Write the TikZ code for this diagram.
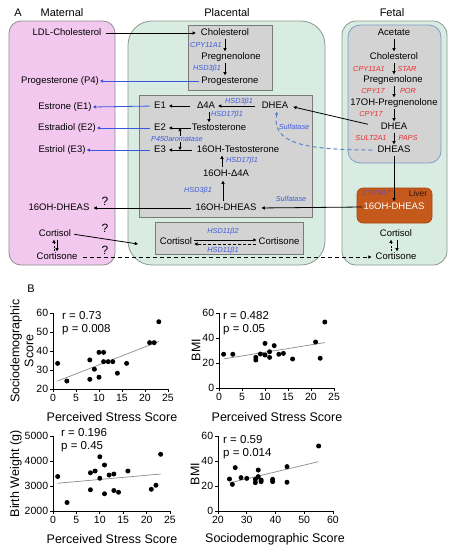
\documentclass[tikz,border=0pt]{standalone}
\usepackage{fontspec}
\setmainfont{Liberation Sans}
\usetikzlibrary{arrows.meta,calc}
\definecolor{pinkfill}{HTML}{F2C8EF}
\definecolor{boxdraw}{HTML}{8E8E8E}
\definecolor{greenfill}{HTML}{D9ECE1}
\definecolor{greendraw}{HTML}{8A9A90}
\definecolor{greyfill}{HTML}{D3D3D3}
\definecolor{greydraw}{HTML}{7A7A7A}
\definecolor{fetdraw}{HTML}{7D9CC6}
\definecolor{liverfill}{HTML}{C5581B}
\definecolor{liverdraw}{HTML}{A3460F}
\definecolor{enzblue}{HTML}{3F5BDB}
\definecolor{enzred}{HTML}{EC2B2B}
\definecolor{lineblue}{HTML}{3A56E0}
\definecolor{dashblue}{HTML}{5A86C8}
\definecolor{cypcol}{HTML}{6B4A9E}
\definecolor{livertext}{HTML}{3A1506}
\definecolor{reggrey}{HTML}{8A8A8A}
\begin{document}
\begin{tikzpicture}[x=1pt,y=-1pt,
  lbl/.style={font=\fontsize{9.5}{11}\selectfont, inner sep=1pt, text height=7pt, text depth=2pt},
  enzb/.style={font=\fontsize{7.3}{8}\selectfont\itshape, text=enzblue, inner sep=0.5pt},
  enzr/.style={font=\fontsize{7.3}{8}\selectfont\itshape, text=enzred, inner sep=0.5pt},
  hdr/.style={font=\fontsize{11}{13}\selectfont, inner sep=0pt},
  qm/.style={font=\fontsize{12}{14}\selectfont, inner sep=0pt},
  arr/.style={-{Triangle[length=3.2pt,width=3.2pt]}, line width=0.8pt},
  barr/.style={arr, draw=lineblue},
  dsh/.style={dash pattern=on 4pt off 3pt},
  axis/.style={line width=0.8pt},
  tick/.style={font=\fontsize{10.5}{12}\selectfont, inner sep=1.5pt},
  axt/.style={font=\fontsize{12.5}{14}\selectfont, inner sep=0pt},
  stat/.style={font=\fontsize{11.5}{13}\selectfont, inner sep=0pt, anchor=west},
  dot/.style={circle, fill=black, inner sep=0pt, minimum size=5pt},
  reg/.style={draw=reggrey, line width=0.7pt}]
\fill[white] (0,0) rectangle (456,550);
\useasboundingbox (0,0) rectangle (456,550);

% ---------- region boxes ----------
\filldraw[fill=pinkfill, draw=boxdraw, line width=0.8pt, rounded corners=12pt] (9,21) rectangle (115,265);
\filldraw[fill=greenfill, draw=greendraw, line width=0.8pt, rounded corners=24pt] (128,21) rectangle (325,265);
\filldraw[fill=greenfill, draw=greendraw, line width=0.8pt, rounded corners=14pt] (342,21) rectangle (447,265);
\filldraw[fill=greyfill, draw=greydraw, line width=0.8pt] (188,25) rectangle (272,90);
\filldraw[fill=greyfill, draw=greydraw, line width=0.8pt] (139,95) rectangle (312,217);
\filldraw[fill=greyfill, draw=greydraw, line width=0.8pt] (155,222) rectangle (303,254);
\filldraw[fill=greyfill, draw=fetdraw, line width=0.8pt, rounded corners=12pt] (348,25) rectangle (441,163);
\filldraw[fill=liverfill, draw=liverdraw, line width=0.6pt, rounded corners=6pt] (357,188) rectangle (432,223);

% ---------- headers ----------
\node[hdr] (hA) at (18,13) {A};
\node[hdr] (hmat) at (62,13) {Maternal};
\node[hdr] (hpla) at (227,13) {Placental};
\node[hdr] (hfet) at (392,13) {Fetal};
\node[hdr] (hB) at (31,289) {B};

% ---------- maternal ----------
\node[lbl] (ldl) at (67,33) {LDL-Cholesterol};
\node[lbl] (p4) at (60,81) {Progesterone (P4)};
\node[lbl] (est1) at (65,107) {Estrone (E1)};
\node[lbl] (est2) at (67,128) {Estradiol (E2)};
\node[lbl] (est3) at (62,150) {Estriol (E3)};
\node[lbl] (mohs) at (59,208) {16OH-DHEAS};
\node[lbl] (mcol) at (55,234) {Cortisol};
\node[lbl] (mcon) at (57,257) {Cortisone};
\node[qm] (q1) at (105,201) {?};
\node[qm] (q2) at (105,228) {?};
\node[qm] (q3) at (105,250) {?};
\coordinate (mc1) at ([xshift=-3pt]mcon.north);
\coordinate (mc2) at ([xshift=2pt]mcol.south);
\draw[arr, dash pattern=on 2pt off 1.5pt] (mc1) -- (mc1 |- mcol.south);
\draw[arr] (mc2) -- (mc2 |- mcon.north);
\coordinate (pin) at (138,244);
\draw[arr, shorten <=2pt] (mcol.east) -- (pin);

% ---------- placental top ----------
\node[lbl] (chol) at (225,33) {Cholesterol};
\node[lbl] (preg) at (231,57) {Pregnenolone};
\node[lbl] (prog) at (230,81) {Progesterone};
\coordinate (pa1) at (225,0);
\draw[arr] (chol.south -| pa1) -- (preg.north -| pa1);
\draw[arr] (preg.south -| pa1) -- (prog.north -| pa1);
\node[enzb] (cyp11p) at (206,45) {CPY11A1};
\node[enzb] (hsdp) at (207,69) {HSD3β1};
\draw[arr, shorten <=3pt, shorten >=4pt] (ldl.east) -- (chol.west);
\draw[barr, shorten <=1pt] (prog.west) -- (p4.east);

% ---------- placental main ----------
\node[lbl] (e1) at (160,106) {E1};
\node[lbl] (d4a) at (206,106) {Δ4A};
\node[lbl] (dhea) at (275,106) {DHEA};
\node[lbl] (e2) at (160,128) {E2};
\node[lbl] (testo) at (219,128) {Testosterone};
\node[lbl] (e3) at (160,150) {E3};
\node[lbl] (oht) at (238,150) {16OH-Testosterone};
\node[lbl] (oha) at (226,174) {16OH-Δ4A};
\node[lbl] (ohs) at (226,208) {16OH-DHEAS};
\draw[arr, shorten <=6pt, shorten >=2pt] (d4a.west) -- (e1.east);
\draw[arr, shorten <=6pt, shorten >=2pt] (dhea.west) -- (d4a.east);
\node[enzb] (hsd3a) at (239,102) {HSD3β1};
\coordinate (pa2) at (209,0);
\draw[arr] (d4a.south -| pa2) -- (testo.north -| pa2);
\node[enzb] (hsd17a) at (227,115) {HSD17β1};
\draw[arr, shorten >=2pt] (testo.west) -- (e2.east);
\draw[arr, shorten <=4pt, shorten >=2pt] (oht.west) -- (e3.east);
\node[enzb] (arom) at (177,139) {P450aromatase};
\coordinate (pa3) at (180,0);
\draw[arr] (arom.north -| pa3) -- (e2 -| pa3);
\draw[arr] (arom.south -| pa3) -- (e3 -| pa3);
\coordinate (pa4) at (222,0);
\draw[arr, shorten <=1pt] (oha.north -| pa4) -- (oht.south -| pa4);
\node[enzb] (hsd17b) at (242,161) {HSD17β1};
\coordinate (pa5) at (223,0);
\draw[arr, shorten <=1pt, shorten >=1pt] (ohs.north -| pa5) -- (oha.south -| pa5);
\node[enzb] (hsd3b) at (198,191) {HSD3β1};
\node[enzb] (sulf1) at (294,127) {Sulfatase};
\node[enzb] (sulf2) at (291,199) {Sulfatase};
\draw[barr, shorten <=3pt] (e1.west) -- (est1.east);
\draw[barr, shorten <=3pt] (e2.west) -- (est2.east);
\draw[barr, shorten <=3pt] (e3.west) -- (est3.east);
\draw[arr, shorten <=3pt, shorten >=3pt] (ohs.west) -- (mohs.east);

% ---------- placental cortisol ----------
\node[lbl] (pcol) at (176,242) {Cortisol};
\node[lbl] (pcon) at (279,242) {Cortisone};
\draw[arr, shorten <=1pt, shorten >=1pt] ([yshift=2pt]pcol.east) -- ([yshift=2pt]pcon.west);
\draw[arr, dash pattern=on 3pt off 2pt, shorten <=1pt, shorten >=1pt] ([yshift=-2pt]pcon.west) -- ([yshift=-2pt]pcol.east);
\node[enzb] (hsd11b2) at (223,232) {HSD11β2};
\node[enzb] (hsd11b1) at (223,251) {HSD11β1};

% ---------- fetal ----------
\node[lbl] (acet) at (394,33) {Acetate};
\node[lbl] (fchol) at (394,57) {Cholesterol};
\node[lbl] (fpreg) at (393,80) {Pregnenolone};
\node[lbl] (f17) at (394,103) {17OH-Pregnenolone};
\node[lbl] (fdhea) at (394,127) {DHEA};
\node[lbl] (fdheas) at (394,150) {DHEAS};
\coordinate (fa) at (394,0);
\draw[arr] (acet.south -| fa) -- (fchol.north -| fa);
\draw[arr] (fchol.south -| fa) -- (fpreg.north -| fa);
\draw[arr] (fpreg.south -| fa) -- (f17.north -| fa);
\draw[arr] (f17.south -| fa) -- (fdhea.north -| fa);
\draw[arr] (fdhea.south -| fa) -- (fdheas.north -| fa);
\node[enzr] (fcyp11) at (369,69) {CPY11A1};
\node[enzr] (fstar) at (407,69) {STAR};
\node[enzr] (fcyp17a) at (373,91) {CPY17};
\node[enzr] (fpor) at (408,91) {POR};
\node[enzr] (fcyp17b) at (371,114) {CPY17};
\node[enzr] (fsult) at (371,138) {SULT2A1};
\node[enzr] (fpaps) at (408,138) {PAPS};
\draw[arr, shorten <=12pt, shorten >=4pt] (fdhea.west) -- (dhea.east);
\draw[arr, draw=dashblue, line width=1pt, dash pattern=on 4pt off 3pt, shorten <=4pt]
  (fdheas.west) .. controls (300,150) and (272,142) .. ([xshift=2pt]dhea.south);

\node[font=\fontsize{7.3}{8}\selectfont\itshape, text=cypcol, inner sep=0pt] (cyp3a7) at (376,193) {CYP3A7};
\node[font=\fontsize{8.5}{9}\selectfont, text=livertext, inner sep=0pt] (liver) at (418,193) {Liver};
\node[lbl, text=white] (lohs) at (394,207) {16OH-DHEAS};
\draw[arr] (fdheas.south -| fa) -- (lohs.north -| fa);
\draw[arr, shorten >=4pt] (lohs.west) -- (ohs.east);

\node[lbl] (fcol) at (396,234) {Cortisol};
\node[lbl] (fcon) at (396,257) {Cortisone};
\coordinate (fc1) at ([xshift=-5pt]fcon.north);
\coordinate (fc2) at ([xshift=1pt]fcol.south);
\draw[arr, dash pattern=on 2pt off 1.5pt] (fc1) -- (fc1 |- fcol.south);
\draw[arr] (fc2) -- (fc2 |- fcon.north);
\draw[arr, dsh, shorten <=4pt, shorten >=3pt] (mcon.east) -- (fcon.west);

% ---------- plot 1 ----------
\begin{scope}[shift={(53,389)}, x=4.6pt, y=1.9pt]
  \draw[axis] (0,40) -- (0,0) -- (25,0);
  \foreach \v/\l in {0/20,10/30,20/40,30/50,40/60}
    \draw[axis] (0,\v) -- ++(-3pt,0) node[tick,left] (p1y\l) {\l};
  \foreach \v in {0,5,10,15,20,25}
    \draw[axis] (\v,0) -- ++(0,-3pt) node[tick,below] (p1x\v) {\v};
  \draw[reg] (1,4.2) coordinate (p1ra) -- (23,25) coordinate (p1rb);
  \foreach \a/\b [count=\i] in {1/33.5,3/24.2,8/35.3,8/25.1,9/30.4,10/39.3,10/26.2,11/39.3,11/34.4,12/34.4,13/34.4,14/28.3,16/33.5,21/44.4,22/44.4,23/55.4}
    \node[dot] (p1d\i) at (\a,{\b-20}) {};
\end{scope}
\node[stat] (p1r) at (62,316) {r = 0.73};
\node[stat] (p1p) at (62,330) {p = 0.008};
\node[axt] (p1xt) at (112,417) {Perceived Stress Score};
\node[axt, rotate=90, align=center] (p1yt) at (22,351) {Sociodemographic\\Score};

% ---------- plot 2 ----------
\begin{scope}[shift={(219,388)}, x=4.6pt, y=1.25pt]
  \draw[axis] (0,60) -- (0,0) -- (25,0);
  \foreach \v in {0,20,40,60}
    \draw[axis] (0,\v) -- ++(-3pt,0) node[tick,left] (p2y\v) {\v};
  \foreach \v in {0,5,10,15,20,25}
    \draw[axis] (\v,0) -- ++(0,-3pt) node[tick,below] (p2x\v) {\v};
  \draw[reg] (1,23.3) coordinate (p2ra) -- (23,36.3) coordinate (p2rb);
  \foreach \a/\b [count=\i] in {1/27,3/27,8/24.5,8/22.4,9/27.2,10/35.7,10/26.4,11/29,11/24.5,12/33.9,13/27,14/27.7,16/23.2,21/36.8,22/23.8,23/52.8}
    \node[dot] (p2d\i) at (\a,\b) {};
\end{scope}
\node[stat] (p2r) at (223,316) {r = 0.482};
\node[stat] (p2p) at (223,330) {p = 0.05};
\node[axt] (p2xt) at (277,417) {Perceived Stress Score};
\node[axt, rotate=90] (p2yt) at (196,350) {BMI};

% ---------- plot 3 ----------
\begin{scope}[shift={(53,511)}, x=4.68pt, y=25pt]
  \draw[axis] (0,3) -- (0,0) -- (25,0);
  \foreach \v/\l in {0/2000,1/3000,2/4000,3/5000}
    \draw[axis] (0,\v) -- ++(-3pt,0) node[tick,left] (p3y\l) {\l};
  \foreach \v in {0,5,10,15,20,25}
    \draw[axis] (\v,0) -- ++(0,-3pt) node[tick,below] (p3x\v) {\v};
  \draw[reg] (1,1.11) coordinate (p3ra) -- (23,1.48) coordinate (p3rb);
  \foreach \a/\b [count=\i] in {1/3380,3/2340,8/3530,8/2850,9/3600,10/4170,10/3310,11/3840,11/2690,12/3440,13/3480,13/2820,14/2750,16/3600,21/2870,22/3030,23/4270}
    \node[dot] (p3d\i) at (\a,{(\b-2000)/1000}) {};
\end{scope}
\node[stat] (p3r) at (61,433) {r = 0.196};
\node[stat] (p3p) at (61,447) {p = 0.45};
\node[axt] (p3xt) at (112,539) {Perceived Stress Score};
\node[axt, rotate=90] (p3yt) at (16,474) {Birth Weight (g)};

% ---------- plot 4 ----------
\begin{scope}[shift={(218,511)}, x=2.875pt, y=1.25pt]
  \draw[axis] (0,60) -- (0,0) -- (40,0);
  \foreach \v in {0,20,40,60}
    \draw[axis] (0,\v) -- ++(-3pt,0) node[tick,left] (p4y\v) {\v};
  \foreach \v in {20,30,40,50,60}
    \draw[axis] ({\v-20},0) -- ++(0,-3pt) node[tick,below] (p4x\v) {\v};
  \draw[reg] (4,22.5) coordinate (p4ra) -- (35,39.5) coordinate (p4rb);
  \foreach \a/\b [count=\i] in {24/25.6,25/21.3,26/34.7,28/26.7,30/26.1,33/25.3,33/22.7,34/32.8,34/27.5,35/24.8,35/23.5,39/25.3,39/23.5,44/35.5,44/23,55/52}
    \node[dot] (p4d\i) at ({\a-20},\b) {};
\end{scope}
\node[stat] (p4r) at (223,440) {r = 0.59};
\node[stat] (p4p) at (223,454) {p = 0.014};
\node[axt] (p4xt) at (275,539) {Sociodemographic Score};
\node[axt, rotate=90] (p4yt) at (195,474) {BMI};
\end{tikzpicture}
\end{document}
